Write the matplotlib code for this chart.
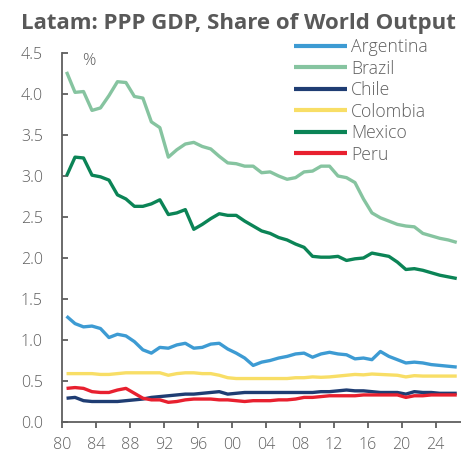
import matplotlib
matplotlib.use("Agg")
import matplotlib.pyplot as plt
import numpy as np

plt.rcParams['font.family'] = ['Open Sans', 'DejaVu Sans']

years = list(range(1980, 2027))
countries = ["Argentina", "Brazil", "Chile", "Colombia", "Mexico", "Peru"]

argentina = [1.29, 1.20, 1.16, 1.17, 1.14, 1.03, 1.07, 1.05, 0.98, 0.88,
             0.84, 0.91, 0.90, 0.94, 0.96, 0.90, 0.91, 0.95, 0.96, 0.89,
             0.84, 0.78, 0.69, 0.73, 0.75, 0.78, 0.80, 0.83, 0.84, 0.79,
             0.83, 0.85, 0.83, 0.82, 0.77, 0.78, 0.76, 0.86, 0.80, 0.76,
             0.72, 0.73, 0.72, 0.70, 0.69, 0.68, 0.67]
brazil = [4.27, 4.02, 4.03, 3.80, 3.83, 3.98, 4.15, 4.14, 3.97, 3.95,
          3.66, 3.59, 3.23, 3.32, 3.39, 3.41, 3.36, 3.33, 3.24, 3.16,
          3.15, 3.12, 3.12, 3.04, 3.05, 3.00, 2.96, 2.98, 3.05, 3.06,
          3.12, 3.12, 3.00, 2.98, 2.92, 2.72, 2.55, 2.49, 2.45, 2.41,
          2.39, 2.38, 2.30, 2.27, 2.24, 2.22, 2.19]
chile = [0.29, 0.30, 0.26, 0.25, 0.25, 0.25, 0.25, 0.26, 0.27, 0.28,
         0.30, 0.31, 0.32, 0.33, 0.34, 0.34, 0.35, 0.36, 0.37, 0.34,
         0.35, 0.36, 0.36, 0.36, 0.36, 0.36, 0.36, 0.36, 0.36, 0.36,
         0.37, 0.37, 0.38, 0.39, 0.38, 0.38, 0.37, 0.36, 0.36, 0.36,
         0.34, 0.37, 0.36, 0.36, 0.35, 0.35, 0.35]
colombia = [0.59, 0.59, 0.59, 0.59, 0.58, 0.58, 0.59, 0.60, 0.60, 0.60,
            0.60, 0.60, 0.57, 0.59, 0.60, 0.60, 0.59, 0.59, 0.57, 0.54,
            0.53, 0.53, 0.53, 0.53, 0.53, 0.53, 0.53, 0.54, 0.54, 0.55,
            0.545, 0.55, 0.56, 0.57, 0.58, 0.575, 0.585, 0.58, 0.575, 0.57,
            0.55, 0.565, 0.56, 0.56, 0.56, 0.56, 0.56]
mexico = [3.00, 3.23, 3.22, 3.01, 2.99, 2.95, 2.77, 2.72, 2.63, 2.63,
          2.66, 2.71, 2.53, 2.55, 2.59, 2.35, 2.41, 2.48, 2.54, 2.52,
          2.52, 2.45, 2.39, 2.33, 2.30, 2.25, 2.22, 2.17, 2.13, 2.02,
          2.01, 2.01, 2.02, 1.97, 1.99, 2.00, 2.06, 2.04, 2.02, 1.95,
          1.86, 1.87, 1.85, 1.82, 1.79, 1.77, 1.75]
peru = [0.41, 0.42, 0.41, 0.37, 0.36, 0.36, 0.39, 0.41, 0.35, 0.29,
        0.27, 0.27, 0.24, 0.25, 0.27, 0.28, 0.28, 0.28, 0.27, 0.27,
        0.26, 0.25, 0.26, 0.26, 0.26, 0.27, 0.27, 0.28, 0.30, 0.30,
        0.31, 0.32, 0.32, 0.32, 0.32, 0.33, 0.33, 0.33, 0.33, 0.33,
        0.30, 0.32, 0.32, 0.33, 0.33, 0.33, 0.33]

colors = ["#3d9bd3", "#86c4a0", "#1f3d73", "#f8de66", "#0b8456", "#e8202f"]
xtick_years = list(range(1980, 2025, 4))
xtick_labels = [f"{y % 100:02d}" for y in xtick_years]
yticks = [0.0, 0.5, 1.0, 1.5, 2.0, 2.5, 3.0, 3.5, 4.0, 4.5]

series = [argentina, brazil, chile, colombia, mexico, peru]

fig = plt.figure(figsize=(4.61, 4.55), dpi=100)
ax = fig.add_axes([62.3 / 461, 33 / 455, 1 - 62.3 / 461, (422 - 53) / 455])

x = np.array(years) + 0.5
for name, vals, c in zip(countries, series, colors):
    ax.plot(x, vals, color=c, lw=2.4, label=name, solid_capstyle='butt')

ax.set_xlim(1980, 2027)
ax.set_ylim(0, 4.5)
ax.set_yticks(yticks)
ax.set_yticklabels([f"{v:.1f}" for v in yticks])
ax.set_xticks(xtick_years)
ax.set_xticklabels(xtick_labels)

gray = "#5f5f5f"
for s in ["top", "right"]:
    ax.spines[s].set_visible(False)
for s in ["left", "bottom"]:
    ax.spines[s].set_color(gray)
    ax.spines[s].set_linewidth(1.3)
ax.tick_params(axis='y', direction='in', length=4, width=1.3, color=gray,
               labelsize=11.5, labelcolor=gray, pad=14)
ax.tick_params(axis='x', direction='out', length=4, width=1.3, color=gray,
               labelsize=11.5, labelcolor=gray, pad=7)
for t in ax.get_xticklabels() + ax.get_yticklabels():
    t.set_fontweight('light')

ax.text(82 / 461, (455 - 61) / 455, "%", transform=fig.transFigure,
        fontsize=12, color=gray, va='center', ha='left', fontweight='light')

fig.text(21 / 461, (455 - 24) / 455, "Latam: PPP GDP, Share of World Output",
         fontsize=16, fontweight='bold', color="#595959", va='center', ha='left')

leg = ax.legend(loc='upper left', bbox_to_anchor=(294 / 461, (455 - 38) / 455),
                bbox_transform=fig.transFigure, frameon=False, fontsize=12.7,
                handlelength=3.0, handletextpad=0.23, labelspacing=0.2,
                borderpad=0, borderaxespad=0)
for t in leg.get_texts():
    t.set_color(gray)
    t.set_fontweight('light')
for h in leg.get_lines():
    h.set_linewidth(3)

fig.savefig("out.png", dpi=100)
